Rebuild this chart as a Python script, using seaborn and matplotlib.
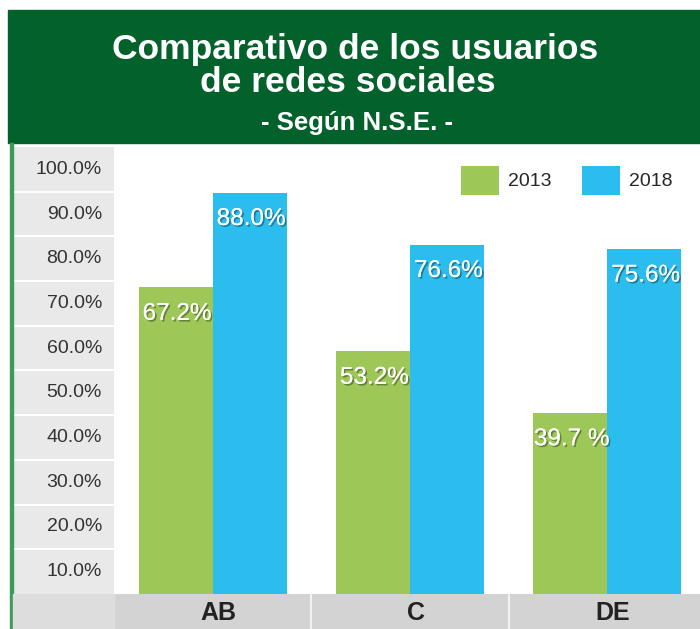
import matplotlib
matplotlib.use("Agg")
import matplotlib.pyplot as plt
import matplotlib.patheffects as pe
from matplotlib.patches import Rectangle
import seaborn as sns
import pandas as pd

# Data
categorias = ["AB", "C", "DE"]
anios = ["2013", "2018"]
valores_2013 = [67.2, 53.2, 39.7]
valores_2018 = [88.0, 76.6, 75.6]
etiquetas_2013 = ["67.2%", "53.2%", "39.7 %"]
etiquetas_2018 = ["88.0%", "76.6%", "75.6%"]
ticks_y = ["100.0%", "90.0%", "80.0%", "70.0%", "60.0%",
           "50.0%", "40.0%", "30.0%", "20.0%", "10.0%"]

df = pd.DataFrame({
    "nse": categorias * 2,
    "anio": [anios[0]] * 3 + [anios[1]] * 3,
    "valor": valores_2013 + valores_2018,
})

# Colors
VERDE_OSCURO = "#03612b"
VERDE = "#9dc757"
AZUL = "#2bbdee"
GRIS_PANEL = "#e9e9e9"
GRIS_BANDA = "#d3d3d3"

sns.set_theme(style="white")
plt.rcParams["font.family"] = ["Liberation Sans", "DejaVu Sans"]

W, H = 700, 629
fig = plt.figure(figsize=(W / 100, H / 100), dpi=100)

def fx(px):
    return px / W

def fy(py):
    return 1 - py / H

# --- header + frame decorations ---
fig.patches.append(Rectangle((fx(8), fy(143)), 1 - fx(8), fy(10) - fy(143),
                             transform=fig.transFigure, color=VERDE_OSCURO, zorder=0))
fig.patches.append(Rectangle((fx(10), 0), fx(3), fy(143),
                             transform=fig.transFigure, color="#3d9a57", zorder=0))
fig.patches.append(Rectangle((fx(13), 0), fx(101), fy(594),
                             transform=fig.transFigure, color="#dddddd", zorder=0))

fig.text(fx(355), fy(50), "Comparativo de los usuarios", color="white",
         fontsize=25.5, fontweight="bold", ha="center", va="center")
fig.text(fx(348), fy(83), "de redes sociales", color="white",
         fontsize=25.5, fontweight="bold", ha="center", va="center")
fig.text(fx(357), fy(123), "- Según N.S.E. -", color="white",
         fontsize=18.5, fontweight="bold", ha="center", va="center")

# --- left label panel ---
ax_lab = fig.add_axes([fx(13), fy(594), fx(101), fy(147) - fy(594)])
ax_lab.set_facecolor(GRIS_PANEL)
ax_lab.set_xlim(0, 1)
ax_lab.set_ylim(0, len(ticks_y))
for i in range(1, len(ticks_y)):
    ax_lab.axhline(i, color="white", lw=1.5)
for i, t in enumerate(ticks_y):
    ax_lab.text(0.88, len(ticks_y) - i - 0.5, t, ha="right", va="center",
                fontsize=14, color="#333333")
ax_lab.set_xticks([])
ax_lab.set_yticks([])
for s in ax_lab.spines.values():
    s.set_visible(False)

# --- main bar chart ---
ax = fig.add_axes([fx(114), fy(594), 1 - fx(114), fy(147) - fy(594)])
sns.barplot(data=df, x="nse", y="valor", hue="anio", palette=[VERDE, AZUL],
            width=0.75, saturation=1, linewidth=0, ax=ax)
ax.set_xlim(-0.5, 2.47)
ax.set_ylim(0, 98)
ax.set_xlabel("")
ax.set_ylabel("")
ax.set_xticks([])
ax.set_yticks([])
for s in ax.spines.values():
    s.set_visible(False)

sombra = [pe.withSimplePatchShadow(offset=(1.2, -1.2), shadow_rgbFace="black", alpha=0.35),
          pe.Normal()]
for cont, etiquetas in zip(ax.containers, [etiquetas_2013, etiquetas_2018]):
    for bar, lbl in zip(cont, etiquetas):
        ax.annotate(lbl, (bar.get_x() + bar.get_width() / 2, bar.get_height()),
                    xytext=(1, -19), textcoords="offset points", ha="center", va="center",
                    color="white", fontsize=17.5, path_effects=sombra)

handles, labels = ax.get_legend_handles_labels()
ax.legend(handles, labels, loc="upper left", bbox_to_anchor=(0.592, 0.958),
          ncol=2, frameon=False, fontsize=14, handlelength=1.95, handleheight=1.9,
          handletextpad=0.45, columnspacing=1.6, borderpad=0, borderaxespad=0)

# --- bottom category band ---
ax_band = fig.add_axes([fx(114), 0, 1 - fx(114), fy(594)], sharex=ax)
ax_band.set_facecolor(GRIS_BANDA)
ax_band.set_ylim(0, 1)
for x in [-0.5, 0.5, 1.5]:
    ax_band.axvline(x, color="#f2f2f2", lw=1.5)
for i, c in enumerate(categorias):
    ax_band.text(i + 0.03, 0.45, c, ha="center", va="center", fontsize=18,
                 fontweight="bold", color="#222222")
ax_band.tick_params(left=False, bottom=False, labelleft=False, labelbottom=False)
for s in ax_band.spines.values():
    s.set_visible(False)

fig.savefig("out.png", dpi=100)
